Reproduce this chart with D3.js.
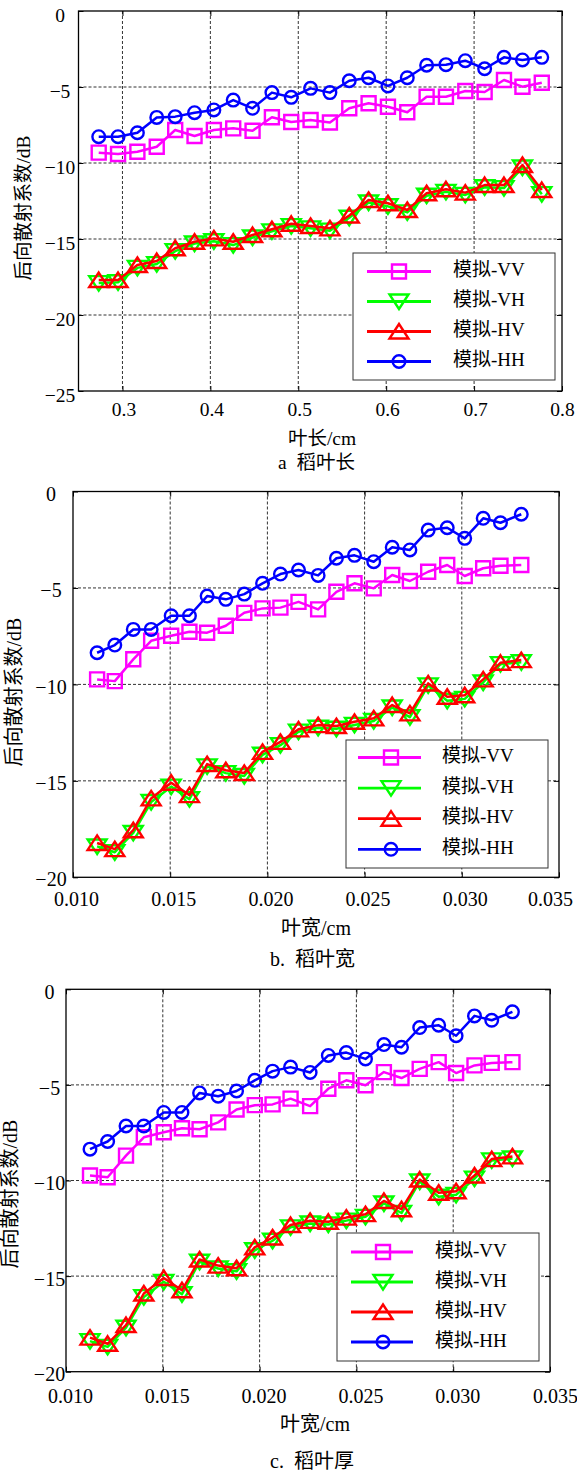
<!DOCTYPE html>
<html>
<head>
<meta charset="utf-8">
<script src="https://cdn.jsdelivr.net/npm/d3@7"></script>
<style>
body { margin: 0; background: #fff; }
text { font-family: "Liberation Serif", "Noto Sans CJK SC", serif; fill: #000; }
</style>
</head>
<body>
<div id="chart"></div>
<script>
// legend names
var seriesNames = ["模拟-VV", "模拟-VH", "模拟-HV", "模拟-HH"];

// panel a: leaf length
var aX = [0.273, 0.295, 0.317, 0.339, 0.360, 0.382, 0.404, 0.426, 0.448, 0.470, 0.492, 0.514,
          0.536, 0.558, 0.580, 0.602, 0.624, 0.646, 0.668, 0.690, 0.712, 0.734, 0.755, 0.777];
var aVV = [-9.32, -9.41, -9.26, -8.93, -7.83, -8.22, -7.83, -7.72, -7.88, -6.99, -7.30, -7.17,
           -7.34, -6.40, -6.07, -6.30, -6.66, -5.64, -5.64, -5.26, -5.33, -4.54, -4.98, -4.72];
var aVH = [-17.90, -17.85, -16.90, -16.65, -15.80, -15.30, -15.15, -15.40, -14.90, -14.50, -14.15, -14.30,
           -14.45, -13.60, -12.60, -12.85, -13.25, -12.15, -11.90, -12.10, -11.60, -11.65, -10.30, -12.05];
var aHV = [-17.70, -17.70, -16.71, -16.45, -15.61, -15.18, -14.96, -15.18, -14.74, -14.36, -14.00, -14.14,
           -14.30, -13.45, -12.43, -12.65, -13.09, -11.99, -11.73, -11.95, -11.45, -11.45, -10.13, -11.78];
var aHH = [-8.27, -8.27, -8.01, -7.00, -6.95, -6.69, -6.51, -5.86, -6.40, -5.37, -5.68, -5.09,
           -5.37, -4.59, -4.39, -4.93, -4.39, -3.57, -3.53, -3.27, -3.80, -3.05, -3.22, -3.05];
var aXTicks = [0.3, 0.4, 0.5, 0.6, 0.7, 0.8];
var aYTicks = [0, -5, -10, -15, -20, -25];

// panel b: leaf width
var bX = [0.01124, 0.01215, 0.01310, 0.01402, 0.01505, 0.01599, 0.01690, 0.01786, 0.01881, 0.01975, 0.02067, 0.02160,
          0.02261, 0.02355, 0.02448, 0.02547, 0.02642, 0.02733, 0.02827, 0.02925, 0.03015, 0.03110, 0.03199, 0.03306];
var bVV = [-9.74, -9.83, -8.70, -7.74, -7.48, -7.27, -7.32, -6.96, -6.29, -6.06, -6.02, -5.72,
           -6.11, -5.20, -4.76, -5.02, -4.33, -4.64, -4.16, -3.81, -4.38, -3.98, -3.85, -3.81];
var bVH = [-18.40, -18.70, -17.70, -16.10, -15.30, -15.95, -14.25, -14.60, -14.75, -13.65, -13.15, -12.45,
           -12.25, -12.30, -12.10, -11.90, -11.20, -11.70, -10.05, -10.85, -10.75, -9.90, -8.95, -8.85];
var bHV = [-18.22, -18.54, -17.56, -15.91, -15.10, -15.74, -14.13, -14.45, -14.59, -13.50, -12.98, -12.33,
           -12.11, -12.16, -11.94, -11.76, -11.07, -11.50, -9.95, -10.64, -10.56, -9.74, -8.88, -8.74];
var bHH = [-8.36, -7.96, -7.15, -7.15, -6.44, -6.44, -5.42, -5.59, -5.32, -4.76, -4.28, -4.07,
           -4.35, -3.46, -3.31, -3.64, -2.89, -3.03, -2.00, -1.88, -2.43, -1.39, -1.62, -1.18];
var bXTicks = [0.010, 0.015, 0.020, 0.025, 0.030, 0.035];
var bYTicks = [0, -5, -10, -15, -20];

// panel c: leaf thickness (the figure repeats the panel b curves)
var cX = bX, cVV = bVV, cVH = bVH, cHV = bHV, cHH = bHH;

var colors = ["#ff00ff", "#00ff00", "#ff0000", "#0000ff"];
var shapes = [
    "M-7,-7H7V7H-7Z",
    "M0,7.5L-9.5,-7H9.5Z",
    "M0,-7.5L9.5,7H-9.5Z",
    "M6.3,0A6.3,6.3 0 1,1 -6.3,0A6.3,6.3 0 1,1 6.3,0Z"
];

var svg = d3.select("#chart")
    .append("svg")
    .attr("width", 577)
    .attr("height", 1475);

var panels = [
    { x: aX, s: [aVV, aVH, aHV, aHH], xDomain: [0.25, 0.8], yDomain: [-25, 0], xTicks: aXTicks, yTicks: aYTicks,
      fmt: ".1f", left: 78.5, right: 562, top: 11, bottom: 391, fs: 19.5,
      xLabDy: 25, xLabDx: 1, lastDx: 0, yLabX: 60, yLabDy: 4,
      xTitle: "叶长/cm", xTitleX: 322, xTitleY: 445,
      caption: "a\u00a0\u00a0稻叶长", capX: 278, capY: 469,
      yTitleX: 23, yTitleY: 208,
      leg: { x: 353, y: 253, w: 202, h: 127, y0: 271.5, dy: 30, l1: 367, l2: 431, m: 399, t: 453 } },
    { x: bX, s: [bVV, bVH, bHV, bHH], xDomain: [0.010, 0.035], yDomain: [-20, 0], xTicks: bXTicks, yTicks: bYTicks,
      fmt: ".3f", left: 73, right: 559, top: 491.5, bottom: 877.3, fs: 20,
      xLabDy: 29, xLabDx: 3, lastDx: -9, yLabX: 51, yLabDy: 2,
      xTitle: "叶宽/cm", xTitleX: 316, xTitleY: 935,
      caption: "b.\u00a0\u00a0稻叶宽", capX: 270, capY: 966,
      yTitleX: 13.5, yTitleY: 692,
      leg: { x: 346, y: 740, w: 202, h: 128, y0: 757.5, dy: 30.6, l1: 358, l2: 421, m: 391, t: 442 } },
    { x: cX, s: [cVV, cVH, cHV, cHH], xDomain: [0.010, 0.035], yDomain: [-20, 0], xTicks: bXTicks, yTicks: bYTicks,
      fmt: ".3f", left: 66, right: 550, top: 989.3, bottom: 1371.7, fs: 20,
      xLabDy: 31, xLabDx: 4, lastDx: 5, yLabX: 49.5, yLabDy: 2.5,
      xTitle: "叶宽/cm", xTitleX: 315, xTitleY: 1431,
      caption: "c.\u00a0\u00a0稻叶厚", capX: 270, capY: 1468,
      yTitleX: 10, yTitleY: 1194,
      leg: { x: 337, y: 1233, w: 202, h: 128, y0: 1252, dy: 30, l1: 351, l2: 413, m: 383, t: 435 } }
];

function drawPanel(p) {
    var x = d3.scaleLinear().domain(p.xDomain).range([p.left, p.right]);
    var y = d3.scaleLinear().domain(p.yDomain).range([p.bottom, p.top]);
    var g = svg.append("g");
    var eps = 1e-9;

    // grid
    var grid = g.append("g")
        .attr("stroke", "#333")
        .attr("stroke-width", 1)
        .attr("stroke-dasharray", "3,2");
    grid.selectAll(".gx")
        .data(p.xTicks.filter(function (t) { return t > p.xDomain[0] + eps && t < p.xDomain[1] - eps; }))
        .enter().append("line")
        .attr("x1", function (d) { return x(d); })
        .attr("x2", function (d) { return x(d); })
        .attr("y1", p.top)
        .attr("y2", p.bottom);
    grid.selectAll(".gy")
        .data(p.yTicks.filter(function (t) { return t > p.yDomain[0] + eps && t < p.yDomain[1] - eps; }))
        .enter().append("line")
        .attr("y1", function (d) { return y(d); })
        .attr("y2", function (d) { return y(d); })
        .attr("x1", p.left)
        .attr("x2", p.right);

    // axes
    var xAxis = g.append("g")
        .attr("transform", "translate(0," + p.bottom + ")")
        .call(d3.axisBottom(x).tickValues(p.xTicks).tickFormat(d3.format(p.fmt)).tickSizeInner(-5).tickSizeOuter(0));
    xAxis.selectAll("text")
        .attr("y", p.xLabDy)
        .attr("dy", null)
        .attr("dx", function (d, i) { return i === p.xTicks.length - 1 ? p.lastDx : p.xLabDx; })
        .style("font-size", p.fs + "px");

    var yAxis = g.append("g")
        .attr("transform", "translate(" + p.left + ",0)")
        .call(d3.axisLeft(y).tickValues(p.yTicks).tickFormat(d3.format("d")).tickSizeInner(-5).tickSizeOuter(0));
    yAxis.selectAll("text")
        .attr("x", p.yLabX - p.left)
        .attr("dy", "0.33em")
        .attr("y", p.yLabDy)
        .attr("text-anchor", "middle")
        .style("font-size", p.fs + "px");

    g.append("g").attr("transform", "translate(0," + p.top + ")")
        .call(d3.axisTop(x).tickValues(p.xTicks).tickFormat("").tickSizeInner(-5).tickSizeOuter(0));
    g.append("g").attr("transform", "translate(" + p.right + ",0)")
        .call(d3.axisRight(y).tickValues(p.yTicks).tickFormat("").tickSizeInner(-5).tickSizeOuter(0));
    g.selectAll(".domain").remove();
    g.selectAll(".tick line").attr("stroke", "#000");
    g.selectAll(".tick text").attr("fill", "#000").attr("font-family", null);

    // frame
    g.append("rect")
        .attr("x", p.left)
        .attr("y", p.top)
        .attr("width", p.right - p.left)
        .attr("height", p.bottom - p.top)
        .attr("fill", "none")
        .attr("stroke", "#000")
        .attr("stroke-width", 1.3);

    // series
    var line = d3.line()
        .x(function (d) { return x(d[0]); })
        .y(function (d) { return y(d[1]); });
    p.s.forEach(function (vals, k) {
        var pts = p.x.map(function (xv, i) { return [xv, vals[i]]; });
        g.append("path")
            .datum(pts)
            .attr("d", line)
            .attr("fill", "none")
            .attr("stroke", colors[k])
            .attr("stroke-width", 2.5)
            .attr("stroke-linejoin", "round");
        g.append("g").selectAll("path")
            .data(pts)
            .enter().append("path")
            .attr("transform", function (d) { return "translate(" + x(d[0]) + "," + y(d[1]) + ")"; })
            .attr("d", shapes[k])
            .attr("fill", "none")
            .attr("stroke", colors[k])
            .attr("stroke-width", 2.4);
    });

    // legend
    var L = p.leg;
    var lg = g.append("g");
    lg.append("rect")
        .attr("x", L.x).attr("y", L.y)
        .attr("width", L.w).attr("height", L.h)
        .attr("fill", "#fff")
        .attr("stroke", "#333")
        .attr("stroke-width", 1);
    seriesNames.forEach(function (name, k) {
        var ly = L.y0 + k * L.dy;
        lg.append("line")
            .attr("x1", L.l1).attr("x2", L.l2)
            .attr("y1", ly).attr("y2", ly)
            .attr("stroke", colors[k])
            .attr("stroke-width", 2.8);
        lg.append("path")
            .attr("transform", "translate(" + L.m + "," + ly + ")")
            .attr("d", shapes[k])
            .attr("fill", "none")
            .attr("stroke", colors[k])
            .attr("stroke-width", 2.4);
        lg.append("text")
            .attr("x", L.t)
            .attr("y", ly + 4.5)
            .style("font-size", "19px")
            .text(name);
    });

    // titles
    g.append("text")
        .attr("x", p.xTitleX)
        .attr("y", p.xTitleY)
        .attr("text-anchor", "middle")
        .style("font-size", p.fs + "px")
        .text(p.xTitle);
    g.append("text")
        .attr("x", p.capX)
        .attr("y", p.capY)
        .style("font-size", p.fs + "px")
        .text(p.caption);
    g.append("text")
        .attr("transform", "translate(" + p.yTitleX + "," + p.yTitleY + ") rotate(-90)")
        .attr("text-anchor", "middle")
        .attr("dominant-baseline", "central")
        .style("font-size", p.fs + "px")
        .text("后向散射系数/dB");
}

panels.forEach(drawPanel);
</script>
</body>
</html>
